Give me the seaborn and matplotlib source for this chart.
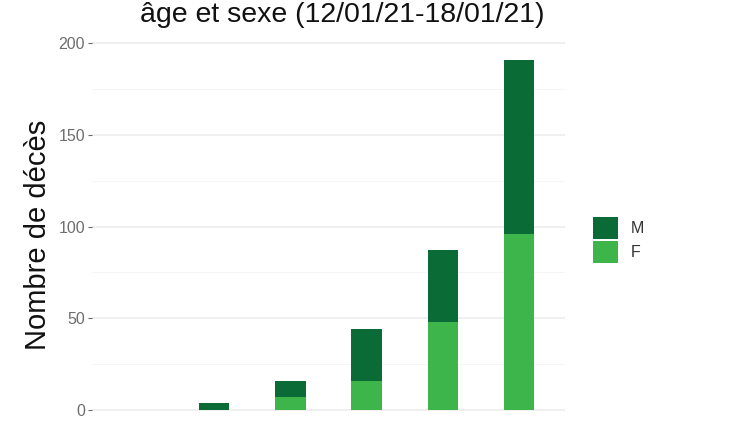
import matplotlib
matplotlib.use('Agg')
from matplotlib import pyplot as plt
from matplotlib.patches import Patch
import seaborn as sns
import numpy as np
import pandas as pd

# age groups (x labels are cropped off in the reference)
ages = ['<50', '50-59', '60-69', '70-79', '80-89', '90+']
deaths_f = [0, 0, 7, 16, 48, 96]
deaths_m = [0, 4, 9, 28, 39, 95]

col_m = '#0b6b37'
col_f = '#3db54a'

data = pd.DataFrame({'age': ages, 'F': deaths_f, 'M': deaths_m})
data['total'] = data['F'] + data['M']

sns.set_theme(style='white')
plt.rcParams['font.family'] = ['Liberation Sans', 'DejaVu Sans']

fig = plt.figure(figsize=(7.49, 4.21), dpi=100)
ax = fig.add_axes([0.123, -0.0154, 0.631, 0.9154])

# stacked: total (M on top) then F underneath
sns.barplot(data=data, x='age', y='total', order=ages, color=col_m, width=0.4,
            saturation=1, linewidth=0, ax=ax, zorder=3)
sns.barplot(data=data, x='age', y='F', order=ages, color=col_f, width=0.4,
            saturation=1, linewidth=0, ax=ax, zorder=4)

ax.set_xlim(-0.6, len(ages) - 0.4)
ax.set_ylim(-9.55, 200.55)
ax.set_yticks([0, 50, 100, 150, 200])
ax.set_yticks([25, 75, 125, 175], minor=True)
ax.grid(axis='y', which='major', color='#ebebeb', linewidth=1.1, zorder=0)
ax.grid(axis='y', which='minor', color='#f4f4f4', linewidth=0.6, zorder=0)
ax.set_axisbelow(True)
for s in ax.spines.values():
    s.set_visible(False)
ax.set_xticklabels([])
ax.tick_params(axis='x', length=0)
ax.tick_params(axis='y', which='major', length=3, width=0.8, color='#666666',
               labelsize=11.5, labelcolor='#6e6e6e', pad=2, left=True)
ax.tick_params(axis='y', which='minor', length=0)
ax.set_xlabel('')
ax.set_ylabel('Nombre de décès', fontsize=21, color='#111111', labelpad=5)

fig.text(342 / 749, 1 - 15 / 421, 'âge et sexe (12/01/21-18/01/21)', ha='center', va='center',
         fontsize=20.5, color='#111111')

handles = [Patch(facecolor=col_m, edgecolor='none', label='M'),
           Patch(facecolor=col_f, edgecolor='none', label='F')]
fig.legend(handles=handles, loc='center left', bbox_to_anchor=(0.772, 0.43), frameon=False,
           fontsize=11.5, handlelength=1.6, handleheight=1.75, handletextpad=0.8,
           labelspacing=0.1, labelcolor='#333333')

fig.savefig('out.png', dpi=100)
